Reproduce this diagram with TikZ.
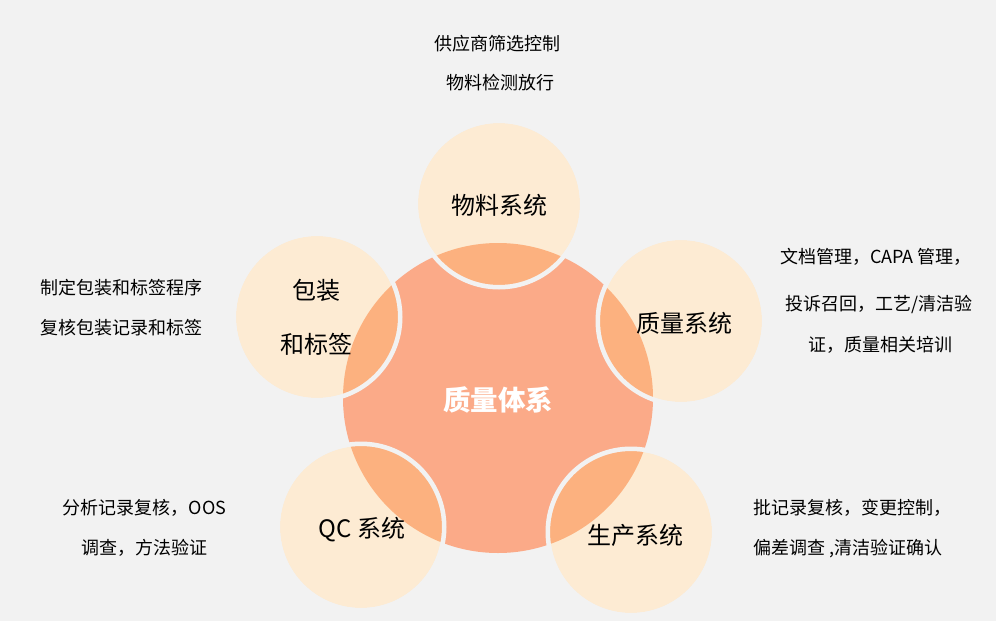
\documentclass[tikz,border=0pt]{standalone}
\usepackage{fontspec}
\setmainfont{Noto Sans CJK SC}
\definecolor{bg}{HTML}{F2F2F2}
\definecolor{cream}{HTML}{FDEBD3}
\definecolor{salmon}{HTML}{FBAA88}
\definecolor{overlap}{HTML}{FCB17F}
\begin{document}
\begin{tikzpicture}[x=1pt,y=-1pt,
  note/.style={font=\fontsize{18}{20}\selectfont, text=black, inner sep=0pt},
  tag/.style={font=\fontsize{24}{26}\selectfont, text=black, inner sep=0pt},
]
\fill[bg] (0,0) rectangle (996,621);
\useasboundingbox (0,0) rectangle (996,621);
\node[circle, fill=salmon, minimum size=310pt, inner sep=0pt] (core) at (498,398) {};
\foreach \n/\x/\y in {m/499/204, p/317/317, q/681/321, c/361/527, s/631/532} {
  \node[circle, fill=cream, minimum size=162pt, inner sep=0pt] (\n) at (\x,\y) {};
  \begin{scope}
    \clip (\x,\y) circle[radius=81pt];
    \fill[overlap] (core.center) circle[radius=155pt];
  \end{scope}
  \draw[bg, line width=4.5pt] (\x,\y) circle[radius=83.25pt];
}
\node[font=\fontsize{27.5}{30}\selectfont\bfseries, text=white, inner sep=0pt] (coretext) at (498,400) {质量体系};
\node[tag] (mt) at (499,205) {物料系统};
\node[tag] (pt1) at (316.5,290) {包装};
\node[tag] (pt2) at (316.5,344) {和标签};
\node[tag] (qt) at (684,323) {质量系统};
\node[tag] (ct) at (362,530) {QC 系统};
\node[tag] (st) at (635,535) {生产系统};
% notes
\node[note] (n1) at (497,44) {供应商筛选控制};
\node[note] (n2) at (500,83) {物料检测放行};
\node[note, anchor=west] (n3) at (40,288) {制定包装和标签程序};
\node[note, anchor=west] (n4) at (40,328) {复核包装记录和标签};
\node[note] (n5) at (876,257) {文档管理，CAPA 管理，};
\node[note] (n6) at (879,304) {投诉召回，工艺/清洁验};
\node[note] (n7) at (880,345) {证，质量相关培训};
\node[note] (n8) at (144.5,508) {分析记录复核，OOS};
\node[note] (n9) at (144,548) {调查，方法验证};
\node[note, anchor=west] (n10) at (753,508) {批记录复核，变更控制，};
\node[note, anchor=west] (n11) at (753,549) {偏差调查 ,清洁验证确认};
\end{tikzpicture}
\end{document}
